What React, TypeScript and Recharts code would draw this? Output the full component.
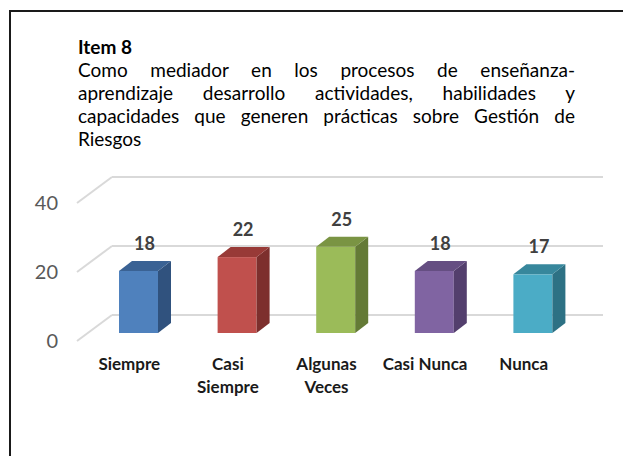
import React from 'react';
import { BarChart, Bar, XAxis, YAxis, CartesianGrid, LabelList } from 'recharts';

const titleLabel = 'Item 8';
const subtitleLines = [
  'Como mediador en los procesos de enseñanza-',
  'aprendizaje desarrollo actividades, habilidades y',
  'capacidades que generen prácticas sobre Gestión de',
  'Riesgos',
];
const categories = ['Siempre', 'Casi Siempre', 'Algunas Veces', 'Casi Nunca', 'Nunca'];
const categoryLines = [['Siempre'], ['Casi', 'Siempre'], ['Algunas', 'Veces'], ['Casi Nunca'], ['Nunca']];
const values = [18, 22, 25, 18, 17];
const yTicks = [0, 20, 40];
const frontColors = ['#4F81BD', '#C0504D', '#9BBB59', '#8064A2', '#4BACC6'];
const sideColors = ['#30527E', '#7D2F2D', '#647A36', '#533F6D', '#2D7184'];
const topColors = ['#3A6294', '#983A37', '#7A9443', '#654E82', '#37879C'];

const data = categories.map((c, i) => ({ name: c, value: values[i], idx: i }));

const FONT = 'Lato, "Open Sans", sans-serif';
const DX = 13;
const DY = 10;

const GridLine = (props: any) => {
  const { x1, x2, y1 } = props;
  const fx = x1 - 12;
  const bx = x1 + 23;
  return (
    <g key={props.key}>
      <line x1={fx} y1={y1 + 8} x2={bx} y2={y1 - 18} stroke="#D9D9D9" strokeWidth={2} />
      <line x1={bx} y1={y1 - 18} x2={x2 + 21} y2={y1 - 18} stroke="#D9D9D9" strokeWidth={2} />
    </g>
  );
};

const Bar3D = (props: any) => {
  const { x, y, width, height, index } = props;
  const r = x + width;
  const b = y + height;
  return (
    <g>
      <rect x={x} y={y} width={width} height={height} fill={frontColors[index]} />
      <polygon
        points={`${r},${y} ${r + DX},${y - DY} ${r + DX},${b - DY} ${r},${b}`}
        fill={sideColors[index]}
      />
      <polygon
        points={`${x},${y} ${x + DX},${y - DY} ${r + DX},${y - DY} ${r},${y}`}
        fill={topColors[index]}
      />
    </g>
  );
};

const ValueLabel = (props: any) => {
  const { x, y, width, value } = props;
  return (
    <text
      x={x + width / 2 + 6}
      y={y - 21}
      textAnchor="middle"
      fontFamily={FONT}
      fontWeight="bold"
      fontSize={18}
      fill="#404040"
    >
      {value}
    </text>
  );
};

const XTick = (props: any) => {
  const { x, y, index } = props;
  const lines = categoryLines[index] || [];
  return (
    <text
      x={x - 9}
      y={y + 29}
      textAnchor="middle"
      fontFamily={FONT}
      fontWeight="bold"
      fontSize={17}
      fill="#1a1a1a"
    >
      {lines.map((l, i) => (
        <tspan key={i} x={x - 9} dy={i === 0 ? 0 : 23}>
          {l}
        </tspan>
      ))}
    </text>
  );
};

const YTick = (props: any) => {
  const { x, y, payload } = props;
  return (
    <text
      x={x}
      y={y + 15}
      textAnchor="end"
      fontFamily={FONT}
      fontSize={20}
      fill="#595959"
    >
      {payload.value}
    </text>
  );
};

export default function App() {
  return (
    <div style={{ position: 'relative', width: 623, height: 448, overflow: 'hidden', background: '#fff' }}>
      <div
        style={{
          position: 'absolute',
          left: 1,
          top: 2,
          width: 700,
          height: 600,
          border: '2px solid #1a1a1a',
          boxSizing: 'border-box',
        }}
      />
      <div
        style={{
          position: 'absolute',
          left: 70,
          top: 26.5,
          width: 497,
          fontFamily: FONT,
          fontSize: 19,
          lineHeight: '23px',
          color: '#000',
        }}
      >
        <div style={{ fontWeight: 'bold' }}>{titleLabel}</div>
        {subtitleLines.map((l, i) => (
          <div
            key={i}
            style={{
              textAlign: 'justify',
              textAlignLast: i < subtitleLines.length - 1 ? 'justify' : 'left',
              whiteSpace: 'nowrap',
            }}
          >
            {l}
          </div>
        ))}
      </div>
      <div style={{ position: 'absolute', left: -8, top: -8 }}>
        <BarChart
          width={631}
          height={456}
          data={data}
          margin={{ top: 195, right: 49, bottom: 63, left: 49 }}
          barSize={39}
        >
          <CartesianGrid vertical={false} horizontal={(p: any) => <GridLine {...p} />} />
          <XAxis dataKey="name" axisLine={false} tickLine={false} height={60} tick={<XTick />} interval={0} />
          <YAxis
            domain={[0, 40]}
            ticks={yTicks}
            axisLine={false}
            tickLine={false}
            width={40}
            tickMargin={25}
            tick={<YTick />}
          />
          <Bar dataKey="value" isAnimationActive={false} shape={<Bar3D />}>
            <LabelList dataKey="value" content={<ValueLabel />} />
          </Bar>
        </BarChart>
      </div>
    </div>
  );
}
